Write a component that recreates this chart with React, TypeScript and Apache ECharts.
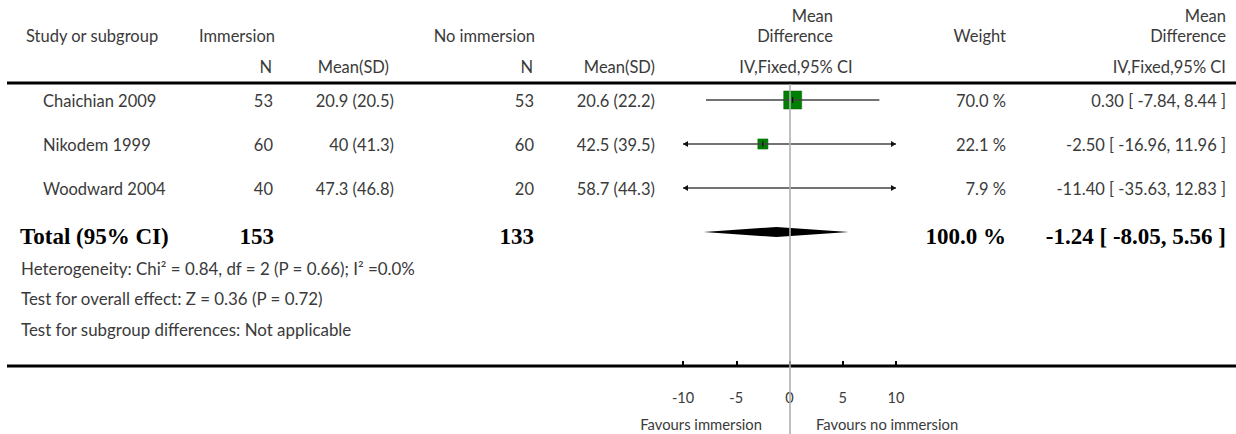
import React, { useEffect, useRef } from "react";
import * as echarts from "echarts";

// ---------- data ----------
const studies = ["Chaichian 2009", "Nikodem 1999", "Woodward 2004"];
const immersionN = [53, 60, 40];
const immersionMeanSD = ["20.9 (20.5)", "40 (41.3)", "47.3 (46.8)"];
const noImmersionN = [53, 60, 20];
const noImmersionMeanSD = ["20.6 (22.2)", "42.5 (39.5)", "58.7 (44.3)"];
const meanDiff = [0.3, -2.5, -11.4];
const ciLow = [-7.84, -16.96, -35.63];
const ciHigh = [8.44, 11.96, 12.83];
const weights = [70.0, 22.1, 7.9];

const totalImmersionN = 153;
const totalNoImmersionN = 133;
const totalMeanDiff = -1.24;
const totalCiLow = -8.05;
const totalCiHigh = 5.56;
const totalWeight = 100.0;

const axisTicks = [-10, -5, 0, 5, 10];
const heterogeneityText = "Heterogeneity: Chi² = 0.84, df = 2 (P = 0.66); I² =0.0%";
const overallEffectText = "Test for overall effect: Z = 0.36 (P = 0.72)";
const subgroupText = "Test for subgroup differences: Not applicable";
const favoursLeft = "Favours immersion";
const favoursRight = "Favours no immersion";

// ---------- layout ----------
const W = 1236;
const H = 434;
const GRID_LEFT = 683;
const GRID_RIGHT = 340;
const GRID_TOP = 84;
const ROW0 = 100;
const ROW_H = 44;
const AXIS_Y = 366;
const HEADER_LINE_Y = 83;
const X_MIN = axisTicks[0];
const X_MAX = axisTicks[axisTicks.length - 1];
const Y_MIN = -(ROW0 - GRID_TOP) / ROW_H;
const Y_MAX = Y_MIN + (H - GRID_TOP) / ROW_H;

const SANS = "Lato, 'Open Sans', sans-serif";
const SERIF = "'Liberation Serif', 'DejaVu Serif', serif";
const TXT = "#3a3a3a";
const FS = 16.5;
const CI_STROKE = "#454545";

const rowY = (i: number) => ROW0 + ROW_H * i;
const f2 = (v: number) => v.toFixed(2);
const ciLabel = (m: number, l: number, h: number) => `${f2(m)} [ ${f2(l)}, ${f2(h)} ]`;

function txt(text: string, x: number, y: number, align: string, extra: any = {}) {
  return {
    type: "text",
    x,
    y,
    silent: true,
    style: {
      text,
      textAlign: align,
      textVerticalAlign: "middle",
      fontFamily: SANS,
      fontSize: FS,
      fill: TXT,
      ...extra,
    },
  };
}

function buildGraphics() {
  const els: any[] = [];
  // header
  els.push(txt("Study or subgroup", 26, 36, "left"));
  els.push(txt("Immersion", 275, 36, "right"));
  els.push(txt("No immersion", 535, 36, "right"));
  els.push(txt("Mean", 833, 16, "right"));
  els.push(txt("Difference", 833, 36, "right"));
  els.push(txt("Weight", 1006, 36, "right"));
  els.push(txt("Mean", 1226, 16, "right"));
  els.push(txt("Difference", 1226, 36, "right"));
  els.push(txt("N", 272, 67, "right"));
  els.push(txt("Mean(SD)", 389, 67, "right"));
  els.push(txt("N", 533, 67, "right"));
  els.push(txt("Mean(SD)", 655, 67, "right"));
  els.push(txt("IV,Fixed,95% CI", 796, 67, "center"));
  els.push(txt("IV,Fixed,95% CI", 1226, 67, "right"));

  // study rows
  studies.forEach((s, i) => {
    const y = rowY(i) + 1;
    els.push(txt(s, 43, y, "left"));
    els.push(txt(String(immersionN[i]), 273, y, "right"));
    els.push(txt(immersionMeanSD[i], 394, y, "right"));
    els.push(txt(String(noImmersionN[i]), 534, y, "right"));
    els.push(txt(noImmersionMeanSD[i], 655, y, "right"));
    els.push(txt(`${weights[i].toFixed(1)} %`, 1006, y, "right"));
    els.push(txt(ciLabel(meanDiff[i], ciLow[i], ciHigh[i]), 1226, y, "right"));
  });

  // total row
  const bold = { fontFamily: SERIF, fontSize: 23, fontWeight: "bold", fill: "#000" };
  const ty = rowY(3) + 4;
  els.push(txt("Total (95% CI)", 20, ty, "left", bold));
  els.push(txt(String(totalImmersionN), 274, ty, "right", bold));
  els.push(txt(String(totalNoImmersionN), 534, ty, "right", bold));
  els.push(txt(`${totalWeight.toFixed(1)} %`, 1006, ty, "right", bold));
  els.push(txt(ciLabel(totalMeanDiff, totalCiLow, totalCiHigh), 1226, ty, "right", bold));

  const foot = { fontSize: 16.9 };
  els.push(txt(heterogeneityText, 21, 268, "left", foot));
  els.push(txt(overallEffectText, 21, 298, "left", foot));
  els.push(txt(subgroupText, 21, 329, "left", foot));

  // favours
  els.push(txt(favoursLeft, 762, 424, "right", { fontSize: 14.8 }));
  els.push(txt(favoursRight, 816, 424, "left", { fontSize: 14.8 }));

  // rules
  els.push({
    type: "line",
    silent: true,
    shape: { x1: 7, y1: HEADER_LINE_Y, x2: W, y2: HEADER_LINE_Y },
    style: { stroke: "#000", lineWidth: 3 },
  });
  els.push({
    type: "line",
    silent: true,
    shape: { x1: 7, y1: AXIS_Y, x2: W, y2: AXIS_Y },
    style: { stroke: "#000", lineWidth: 3 },
  });
  return els;
}

export default function App() {
  const ref = useRef<HTMLDivElement>(null);
  useEffect(() => {
    if (!ref.current) return;
    const chart = echarts.init(ref.current, undefined, { renderer: "svg" });
    const studyData = meanDiff.map((m, i) => [m, ciLow[i], ciHigh[i], i, weights[i]]);
    const totalData = [[totalMeanDiff, totalCiLow, totalCiHigh, 3]];

    const ciLineSeries = {
      type: "custom",
      xAxisIndex: 0,
      yAxisIndex: 0,
      z: 2,
      silent: true,
      encode: { x: 0, y: 3 },
      data: studyData,
      renderItem: (params: any, api: any) => {
        const lo = api.value(1);
        const hi = api.value(2);
        const row = api.value(3);
        const y = api.coord([0, row])[1];
        const xl = api.coord([Math.max(lo, X_MIN), row])[0];
        const xh = api.coord([Math.min(hi, X_MAX), row])[0];
        const children: any[] = [
          { type: "line", shape: { x1: xl, y1: y, x2: xh, y2: y }, style: { stroke: CI_STROKE, lineWidth: 1.6 } },
        ];
        if (lo < X_MIN) {
          children.push({
            type: "polygon",
            shape: { points: [[xl, y], [xl + 5, y - 3], [xl + 5, y + 3]] },
            style: { fill: "#111" },
          });
        }
        if (hi > X_MAX) {
          children.push({
            type: "polygon",
            shape: { points: [[xh, y], [xh - 5, y - 3], [xh - 5, y + 3]] },
            style: { fill: "#111" },
          });
        }
        return { type: "group", children };
      },
    };

    const squareSeries = {
      type: "custom",
      xAxisIndex: 0,
      yAxisIndex: 0,
      z: 4,
      silent: true,
      encode: { x: 0, y: 3 },
      data: studyData,
      renderItem: (params: any, api: any) => {
        const est = api.value(0);
        const lo = api.value(1);
        const hi = api.value(2);
        const row = api.value(3);
        const w = api.value(4);
        if (est < X_MIN || est > X_MAX) return { type: "group", children: [] };
        const y = api.coord([0, row])[1];
        const xe = api.coord([est, row])[0];
        const s = Math.sqrt(w) * 2.15;
        const xl = Math.max(api.coord([Math.max(lo, X_MIN), row])[0], xe - s / 2);
        const xh = Math.min(api.coord([Math.min(hi, X_MAX), row])[0], xe + s / 2);
        return {
          type: "group",
          children: [
            {
              type: "rect",
              shape: { x: xe - s / 2, y: y - s / 2, width: s, height: s },
              style: { fill: "#008000", stroke: "#006400", lineWidth: 0.5 },
            },
            { type: "line", shape: { x1: xl, y1: y, x2: xh, y2: y }, style: { stroke: CI_STROKE, lineWidth: 1.6 } },
            { type: "line", shape: { x1: xe, y1: y - 3, x2: xe, y2: y + 3 }, style: { stroke: "#000", lineWidth: 1 } },
          ],
        };
      },
    };

    const diamondSeries = {
      type: "custom",
      xAxisIndex: 0,
      yAxisIndex: 0,
      z: 2,
      silent: true,
      encode: { x: 0, y: 3 },
      data: totalData,
      renderItem: (params: any, api: any) => {
        const row = api.value(3);
        const y = api.coord([0, row])[1];
        const xe = api.coord([api.value(0), row])[0];
        const xl = api.coord([api.value(1), row])[0];
        const xh = api.coord([api.value(2), row])[0];
        return {
          type: "polygon",
          shape: { points: [[xl, y], [xe, y - 5], [xh, y], [xe, y + 5]] },
          style: { fill: "#000" },
        };
      },
    };

    const zeroLineSeries = {
      type: "line",
      xAxisIndex: 0,
      yAxisIndex: 0,
      data: [],
      z: 3,
      silent: true,
      markLine: {
        silent: true,
        symbol: ["none", "none"],
        label: { show: false },
        lineStyle: { color: "#b0b0b0", width: 1.6, type: "solid" },
        data: [{ xAxis: 0 }],
      },
    };

    const option: any = {
      animation: false,
      backgroundColor: "#fff",
      grid: [
        { left: GRID_LEFT, right: GRID_RIGHT, top: GRID_TOP, bottom: 0 },
        { left: GRID_LEFT, right: GRID_RIGHT, top: GRID_TOP, bottom: H - AXIS_Y },
      ],
      xAxis: [
        { type: "value", gridIndex: 0, min: X_MIN, max: X_MAX, interval: 5, show: false },
        {
          type: "value",
          gridIndex: 1,
          min: X_MIN,
          max: X_MAX,
          interval: 5,
          axisLine: { show: false },
          axisTick: { show: true, inside: true, length: 5, lineStyle: { color: "#000", width: 2 } },
          axisLabel: {
            show: true,
            margin: 24,
            fontFamily: SANS,
            fontSize: 14.5,
            color: TXT,
            showMinLabel: true,
            showMaxLabel: true,
            formatter: (v: number) => String(v),
          },
          splitLine: { show: false },
        },
      ],
      yAxis: [
        { type: "value", gridIndex: 0, inverse: true, min: Y_MIN, max: Y_MAX, show: false },
        { type: "value", gridIndex: 1, min: 0, max: 1, show: false },
      ],
      graphic: { elements: buildGraphics() },
      series: [ciLineSeries, diamondSeries, zeroLineSeries, squareSeries],
    };
    chart.setOption(option);
    return () => chart.dispose();
  }, []);

  return (
    <div
      ref={ref}
      style={{ position: "fixed", left: 0, top: 0, width: W, height: H, background: "#fff" }}
    />
  );
}
